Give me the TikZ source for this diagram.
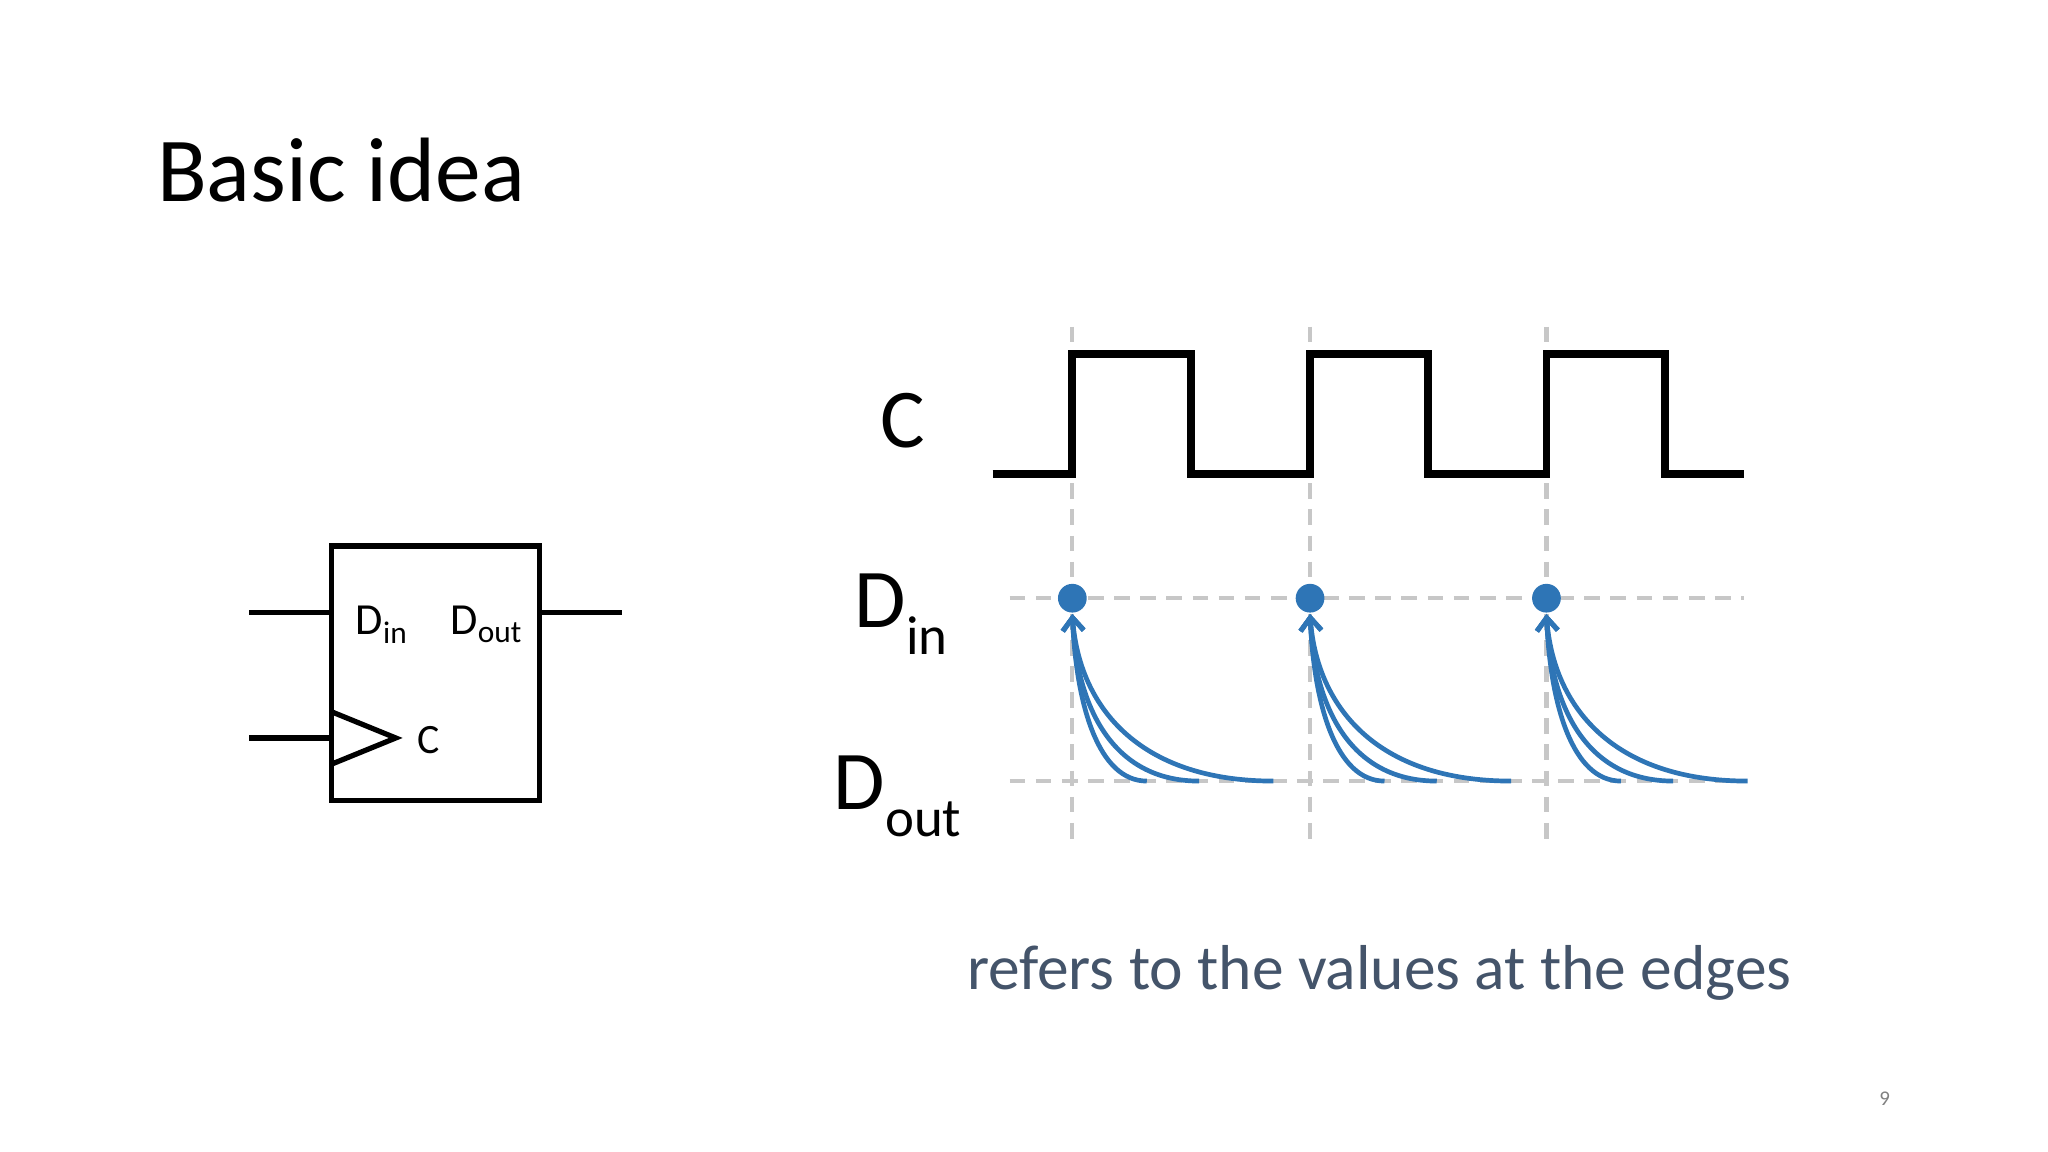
\documentclass[tikz,border=0pt]{standalone}
\usepackage{fontspec}
\setmainfont{Carlito}
\usetikzlibrary{arrows.meta}
\definecolor{blu}{HTML}{2E75B6}
\definecolor{txt}{HTML}{44546A}
\newcommand{\mysub}[1]{\raisebox{-0.32em}{\fontsize{21}{21}\selectfont #1}}
\newcommand{\smsub}[1]{\raisebox{-0.2em}{\fontsize{12}{12}\selectfont #1}}
\begin{document}
\begin{tikzpicture}[x=0.5pt,y=-0.5pt,
  wire/.style={line width=2pt,black},
  clk/.style={line width=3pt,black,line join=miter},
  grid/.style={line width=1.6pt,black!22,dash pattern=on 6pt off 4pt},
  arr/.style={line width=1.8pt,blu,-{Straight Barb[length=5pt,width=8pt]}},
  lbl/.style={inner sep=0pt,font=\fontsize{32}{32}\selectfont}]
\useasboundingbox (0,0) rectangle (1568,882);
\node[anchor=west,inner sep=0pt,font=\fontsize{35}{35}\selectfont] (title) at (120,130) {Basic idea};
% flip-flop
\node[draw,line width=2pt,minimum width=79.5pt,minimum height=97.5pt,inner sep=0pt] (ff) at (333.5,515.5) {};
\coordinate (i1) at (191,469); \coordinate (i2) at (191,565); \coordinate (o1) at (476,469);
\draw[wire] (i1) -- (i1-|ff.west);
\draw[wire] (o1) -- (o1-|ff.east);
\draw[wire] (i2) -- (i2-|ff.west);
\draw[wire,line join=miter] (254,545) -- (303,565) -- (254,585);
\node[inner sep=0pt,font=\fontsize{17}{17}\selectfont] (din) at (292,478) {D\smsub{in}};
\node[inner sep=0pt,font=\fontsize{17}{17}\selectfont] (dout) at (372,478) {D\smsub{out}};
\node[inner sep=0pt,font=\fontsize{16}{16}\selectfont] (c) at (328,567) {C};
% grid
\foreach \x in {821,1003,1184} \draw[grid] (\x,250) -- (\x,645);
\draw[grid] (773,458) -- (1335,458);
\draw[grid] (773,598) -- (1335,598);
% clock
\draw[clk] (760,363) -- (821,363) -- (821,271) -- (912,271) -- (912,363) -- (1003,363) -- (1003,271) -- (1093,271) -- (1093,363) -- (1184,363) -- (1184,271) -- (1275,271) -- (1275,363) -- (1335,363);
% labels
\node[lbl] (lc) at (691,322) {C};
\node[lbl,anchor=west] (ldin) at (654,470) {D\mysub{in}};
\node[lbl,anchor=west] (ldout) at (638,610) {D\mysub{out}};
% dots and arrows
\foreach \x [count=\i] in {821,1003,1184} {
  \fill[blu] (\x,458) circle (5.5pt) coordinate (p\i);
  \coordinate (t\i) at (\x,470);
  \draw[arr] (\x+57,598) .. controls (\x+20,598) and (\x+3,540) .. (t\i);
  \draw[arr] (\x+97,598) .. controls (\x+30,598) and (\x+3,540) .. (t\i);
  \draw[arr] (\x+154,598) .. controls (\x+50,598) and (\x+5,540) .. (t\i);
}
\node[inner sep=0pt,text=txt,font=\fontsize{24.3}{24}\selectfont] (cap) at (1056,745) {refers to the values at the edges};
\node[inner sep=0pt,text=black!50,font=\fontsize{8}{8}\selectfont] (pg) at (1443,841) {9};
\end{tikzpicture}
\end{document}
